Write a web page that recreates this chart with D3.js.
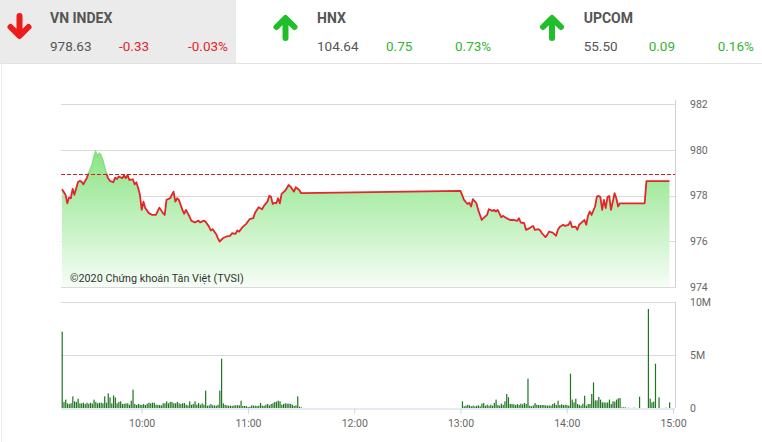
<!DOCTYPE html>
<html><head><meta charset="utf-8">
<script src="https://cdn.jsdelivr.net/npm/d3@7"></script>
<style>
body{margin:0;background:#fff;}
svg{display:block;font-family:Roboto,"Noto Sans",sans-serif;}
</style></head><body>
<svg id="c" width="762" height="442"></svg>
<script>
// ---------- DATA ----------
const indexNames    = ["VN INDEX", "HNX", "UPCOM"];
const indexValues   = ["978.63", "104.64", "55.50"];
const indexChanges  = ["-0.33", "0.75", "0.09"];
const indexPercents = ["-0.03%", "0.73%", "0.16%"];
const indexDirection = ["down", "up", "up"];

const referencePrice = 978.96;
const priceTicks  = [974, 976, 978, 980, 982];
const volumeTicks = [0, 5, 10];            // millions
const volumeTickLabels = ["0", "5M", "10M"];
const timeTicks = ["10:00", "11:00", "12:00", "13:00", "14:00", "15:00"];
const copyright = "©2020 Chứng khoán Tân Việt (TVSI)";

const priceTimes = [
 "09:15","09:17","09:18","09:19","09:20","09:21","09:22","09:24","09:25","09:26",
 "09:27","09:29","09:30","09:32","09:33","09:34","09:35","09:36","09:37","09:38",
 "09:40","09:41","09:42","09:44","09:45","09:46","09:47","09:49","09:50","09:51",
 "09:52","09:53","09:55","09:56","09:57","09:58","09:59","10:00","10:01","10:02",
 "10:04","10:06","10:08","10:10","10:12","10:13","10:14","10:16","10:18","10:19",
 "10:20","10:21","10:23","10:24","10:25","10:27","10:28","10:30","10:32","10:33",
 "10:35","10:36","10:38","10:39","10:40","10:42","10:43","10:44","10:46","10:48",
 "10:50","10:51","10:53","10:54","10:55","10:57","10:59","11:01","11:03","11:04",
 "11:06","11:08","11:09","11:11","11:12","11:13","11:14","11:15","11:16","11:17",
 "11:18","11:19","11:21","11:23","11:24","11:26","11:27","11:29","11:30",
 "13:00","13:02","13:04","13:05","13:06","13:07","13:09","13:10","13:12","13:13",
 "13:15","13:16","13:18","13:19","13:20","13:21","13:23","13:24","13:26","13:28",
 "13:30","13:32","13:33","13:34","13:36","13:37","13:38","13:40","13:41","13:42",
 "13:44","13:45","13:46","13:48","13:49","13:50","13:52","13:54","13:55","13:56",
 "13:58","13:59","14:01","14:02","14:03","14:05","14:06","14:07","14:09","14:10",
 "14:11","14:12","14:13","14:14","14:16","14:17","14:18","14:19","14:20","14:21",
 "14:22","14:23","14:24","14:25","14:26","14:27","14:28","14:29","14:30","14:44",
 "14:45","14:58"
];
const priceValues = [
 978.27,978.03,977.66,977.91,977.88,978.29,978.03,978.58,978.64,978.61,
 978.49,978.76,978.97,979.34,979.70,979.92,979.70,979.85,979.77,979.55,
 978.97,978.76,978.64,978.58,978.78,978.72,978.83,978.76,978.87,978.76,
 978.90,978.68,978.71,978.49,978.58,978.32,978.03,977.37,977.73,977.45,
 977.23,977.15,977.15,977.47,977.23,977.15,977.81,977.88,978.17,977.73,
 977.88,977.81,977.37,977.20,977.37,977.08,976.90,976.82,976.90,976.82,
 976.90,976.86,976.64,976.47,976.53,976.32,976.14,975.99,976.14,976.21,
 976.24,976.35,976.32,976.47,976.42,976.62,976.76,976.97,977.01,977.25,
 977.49,977.40,977.55,977.73,977.98,977.95,977.63,977.69,977.66,977.88,
 977.66,978.07,978.21,978.46,978.39,978.17,978.36,978.24,978.10,
 978.20,977.81,977.63,977.69,977.52,977.84,977.66,977.37,976.93,977.01,
 977.15,977.40,977.33,977.37,977.30,977.37,977.05,977.11,977.01,976.93,
 976.93,976.89,977.01,976.82,976.79,976.50,976.53,976.62,976.67,976.50,
 976.53,976.47,976.35,976.18,976.28,976.42,976.38,976.24,976.50,976.62,
 976.72,976.67,976.72,976.86,976.62,976.64,976.50,976.72,976.86,976.93,
 976.72,977.11,977.30,977.15,977.52,977.95,977.98,977.93,977.37,977.81,
 977.45,977.93,977.98,977.37,977.73,978.10,977.88,977.52,977.66,977.66,
 978.63,978.63
];

// volume per minute (millions), morning session from 09:15
const volumeMorningStart = "09:15";
const volumeMorning = [
 7.2,.57,.79,.44,.38,.45,1.10,.63,.57,.88,
 .44,.44,.50,.38,.50,.40,.50,.41,.79,.57,
 .44,.50,.50,.44,1.10,.50,1.38,1.0,.44,1.19,
 1.0,.44,.57,.63,.38,.40,.44,.44,.31,.69,
 1.73,.38,.28,.38,.31,.31,.38,.28,.41,.50,
 .44,.50,.50,.31,.30,.28,.25,.44,.44,.63,
 .44,.57,.57,.45,.44,.57,.44,.38,.44,.47,
 .31,.25,.63,.31,.38,.63,.31,.47,.31,.44,
 .31,1.64,.22,.25,.38,.25,.25,.22,.31,1.64,
 4.65,.44,.31,.25,.22,.22,.19,.25,.25,.25,
 .25,.69,.19,.19,.19,.09,.13,.25,.22,.22,
 .19,.22,.47,.22,.22,.31,.38,.25,.38,.44,
 .57,.60,.69,.63,.31,.38,.44,.41,.41,.38,
 .31,.19,.25,1.10,.13,.06
];
// volume per minute (millions), afternoon from 13:00
const volumeAfternoonStart = "13:00";
const volumeAfternoon = [
 0,.63,.16,.22,.31,.25,.16,.22,.16,.20,
 .25,.16,.41,.47,.22,.31,.22,.31,.22,.47,
 .79,.28,.22,.41,.30,.63,1.32,1.01,.38,.38,
 .35,.28,.38,.28,.41,.35,.47,.38,2.77,.22,
 .16,.25,.47,.31,.28,.28,.28,.28,.25,.22,
 .25,.22,.38,.47,.28,.69,.28,.35,.28,.30,
 .28,.22,3.24,.79,.53,.88,.38,.30,.22,.41,
 1.16,.22,.38,.38,1.32,2.42,.72,.72,1.04,.79,
 .53,.53,.50,.53,.79,.38,.63,.60,.79,.91,
 .94,.06,.06,.06,0,.03,0,0,.03,0,
 0,1.07,0,0,0,0,9.34,.88,.53,.60,
 4.18,0,1.01,0,0,0,.03,0,.53
];

// ---------- DRAW ----------
const svg = d3.select("#c");
const parse = d3.timeParse("%H:%M");
const RED = "#e3262a", GREEN = "#33b533";

// header
svg.append("rect").attr("x",0).attr("y",0).attr("width",236).attr("height",63).attr("fill","#ebebeb");
svg.append("line").attr("x1",0).attr("x2",762).attr("y1",63.5).attr("y2",63.5).attr("stroke","#e2e2e2");
svg.append("line").attr("x1",1.5).attr("x2",1.5).attr("y1",63).attr("y2",442).attr("stroke","#ececec");

const arrowX = [19.5, 285.5, 552];
const nameX = [50, 317, 583.7];
const changeX = [119, 386, 648.7];
const pctX = [188, 455, 717.7];
indexNames.forEach((n,i)=>{
  const up = indexDirection[i]==="up";
  const col = up ? "#1fbf2a" : "#ee1b1b";
  const cx = arrowX[i], top = 16, bot = 38;
  const p = d3.path();
  if (up) {
    p.moveTo(cx, bot); p.lineTo(cx, top+3);
    p.moveTo(cx-9, top+11); p.lineTo(cx, top+2); p.lineTo(cx+9, top+11);
  } else {
    p.moveTo(cx, top); p.lineTo(cx, bot-3);
    p.moveTo(cx-9, bot-11); p.lineTo(cx, bot-2); p.lineTo(cx+9, bot-11);
  }
  svg.append("path").attr("d", p.toString()).attr("fill","none").attr("stroke",col)
    .attr("stroke-width",6).attr("stroke-linecap","round").attr("stroke-linejoin","round");
  const tc = up ? GREEN : RED;
  svg.append("text").attr("x",nameX[i]).attr("y",22.7).text(n)
    .attr("font-size",14).attr("font-weight","bold").attr("fill","#555");
  svg.append("text").attr("x",nameX[i]).attr("y",51).text(indexValues[i])
    .attr("font-size",13.5).attr("fill","#555");
  svg.append("text").attr("x",changeX[i]).attr("y",51).text(indexChanges[i])
    .attr("font-size",13.5).attr("fill",tc);
  svg.append("text").attr("x",pctX[i]).attr("y",51).text(indexPercents[i])
    .attr("font-size",13.5).attr("fill",tc);
});

// scales
const x = d3.scaleTime().domain([parse("09:15"), parse("15:00")]).range([62, 673]);
const y = d3.scaleLinear().domain([974, 982]).range([287, 104]);
const yv = d3.scaleLinear().domain([0, 10]).range([408, 302]);
const left = 61, right = 675;

// price grid
const g1 = svg.append("g");
g1.selectAll("line.grid").data(priceTicks).join("line")
  .attr("x1",left).attr("x2",right).attr("y1",d=>Math.round(y(d))+0.5).attr("y2",d=>Math.round(y(d))+0.5)
  .attr("stroke","#dadada");
const yAxis = d3.axisRight(y).tickValues(priceTicks).tickSize(0).tickPadding(15);
const ya = svg.append("g").attr("transform",`translate(${right},0)`).call(yAxis);
ya.select(".domain").remove();
ya.selectAll("text").attr("font-size",10.5).attr("fill","#666").attr("font-family","Roboto");
svg.append("line").attr("x1",right+0.5).attr("x2",right+0.5).attr("y1",100).attr("y2",288).attr("stroke","#ccd2dc");

// gradient
const defs = svg.append("defs");
const grad = defs.append("linearGradient").attr("id","gfill").attr("gradientUnits","userSpaceOnUse")
  .attr("x1",0).attr("x2",0).attr("y1",150).attr("y2",287);
grad.append("stop").attr("offset","0%").attr("stop-color","#8ae484");
grad.append("stop").attr("offset","100%").attr("stop-color","#f6fdf6");

const yRef = y(referencePrice);
defs.append("clipPath").attr("id","below").append("rect").attr("x",0).attr("y",yRef).attr("width",762).attr("height",300);
defs.append("clipPath").attr("id","above").append("rect").attr("x",0).attr("y",0).attr("width",762).attr("height",yRef);

const pts = priceTimes.map((t,i)=>({t:parse(t), v:priceValues[i]})).filter(d=>d.v!=null);
const area = d3.area().x(d=>x(d.t)).y0(y(974)).y1(d=>y(d.v));
const line = d3.line().x(d=>x(d.t)).y(d=>y(d.v));
svg.append("path").attr("d",area(pts)).attr("fill","url(#gfill)");
svg.append("path").attr("d",line(pts)).attr("fill","none").attr("stroke","#86de7f").attr("stroke-width",1.5)
  .attr("clip-path","url(#above)");
svg.append("path").attr("d",line(pts)).attr("fill","none").attr("stroke",RED).attr("stroke-width",1.8)
  .attr("stroke-linejoin","round").attr("clip-path","url(#below)");

// reference line
svg.append("line").attr("x1",left).attr("x2",right).attr("y1",Math.round(yRef)+0.5).attr("y2",Math.round(yRef)+0.5)
  .attr("stroke","#d41f23").attr("stroke-width",1).attr("stroke-dasharray","4,2");

svg.append("text").attr("x",70).attr("y",282).text(copyright)
  .attr("font-size",10.8).attr("fill","#333");

// volume grid
svg.selectAll("line.vgrid").data(volumeTicks.filter(d=>d>0)).join("line")
  .attr("x1",left).attr("x2",right).attr("y1",d=>Math.round(yv(d))+0.5).attr("y2",d=>Math.round(yv(d))+0.5)
  .attr("stroke","#dadada");
const vAxis = d3.axisRight(yv).tickValues(volumeTicks).tickFormat((d,i)=>volumeTickLabels[i]).tickSize(0).tickPadding(15);
const va = svg.append("g").attr("transform",`translate(${right},0)`).call(vAxis);
va.select(".domain").remove();
va.selectAll("text").attr("font-size",10.5).attr("fill","#666").attr("font-family","Roboto");
svg.append("line").attr("x1",right+0.5).attr("x2",right+0.5).attr("y1",302).attr("y2",408).attr("stroke","#ccd2dc");

// volume bars
const vol = [];
volumeMorning.forEach((v,i)=>vol.push({t:d3.timeMinute.offset(parse(volumeMorningStart),i), v}));
volumeAfternoon.forEach((v,i)=>vol.push({t:d3.timeMinute.offset(parse(volumeAfternoonStart),i), v}));
svg.append("g").selectAll("rect").data(vol.filter(d=>d.v>0)).join("rect")
  .attr("x",d=>x(d.t)-0.4).attr("width",1.2)
  .attr("y",d=>yv(d.v)).attr("height",d=>yv(0)-yv(d.v))
  .attr("fill","#1f741f");

// time axis
const xAxis = d3.axisBottom(x).tickValues(timeTicks.map(parse)).tickFormat(d3.timeFormat("%H:%M"))
  .tickSize(5).tickPadding(6);
const xa = svg.append("g").attr("transform","translate(0,408.5)").call(xAxis);
xa.select(".domain").attr("d",`M${left},0.5H${right}`).attr("stroke","#ccd6eb");
xa.selectAll(".tick line").attr("stroke","#ccd6eb");
xa.selectAll("text").attr("font-size",10.5).attr("fill","#666").attr("font-family","Roboto");
</script>
</body></html>
